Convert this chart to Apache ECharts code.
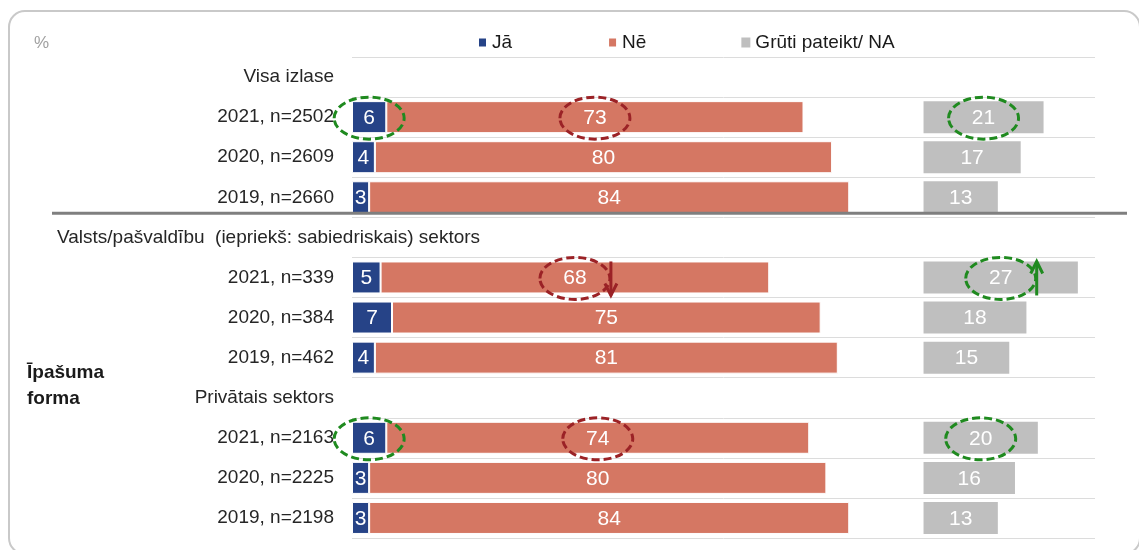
<!DOCTYPE html>
<html>
<head>
<meta charset="utf-8">
<script src="https://cdn.jsdelivr.net/npm/echarts@6/dist/echarts.min.js"></script>
<style>
  html, body { margin: 0; padding: 0; background: #fff; }
  #chart { width: 1139px; height: 550px; }
</style>
</head>
<body>
<div id="chart"></div>
<script>
  // rindas (virsraksti un apakšgrupas)
  const rowLabels = [
    'Visa izlase', '2021, n=2502', '2020, n=2609', '2019, n=2660',
    'Valsts/pašvaldību  (iepriekš: sabiedriskais) sektors', '2021, n=339', '2020, n=384', '2019, n=462',
    'Privātais sektors', '2021, n=2163', '2020, n=2225', '2019, n=2198'
  ]
  const seriesNames = ['Jā', 'Nē', 'Grūti pateikt/ NA']
  const jaValues = [null, 6, 4, 3, null, 5, 7, 4, null, 6, 3, 3]
  const neValues = [null, 73, 80, 84, null, 68, 75, 81, null, 74, 80, 84]
  const grutiValues = [null, 21, 17, 13, null, 27, 18, 15, null, 20, 16, 13]
  // pelēkie stabiņi sākas no 100
  const grutiStart = 100
  const longLabelRow = 4
  // iezīmētās vērtības: [rinda, sērija, krāsa]
  const circled = [[1, 0, 'g'], [1, 1, 'r'], [1, 2, 'g'], [5, 1, 'r'], [5, 2, 'g'], [9, 0, 'g'], [9, 1, 'r'], [9, 2, 'g']]
  const arrows = [[5, 1, 'down'], [5, 2, 'up']]

  const colors = ['#264387', '#d57763', '#bfbfbf']
  const markColors = { g: '#1f8a1f', r: '#9b2226' }
  const font = '"Liberation Sans", Arial, sans-serif'

  const gapValues = rowLabels.map((_, i) =>
    jaValues[i] == null ? null : grutiStart - jaValues[i] - neValues[i])

  const chart = echarts.init(document.getElementById('chart'))

  const barLabel = {
    show: true,
    position: 'inside',
    color: '#fff',
    fontSize: 21,
    fontFamily: font,
    offset: [0, 1]
  }

  chart.setOption({
    animation: false,
    textStyle: { fontFamily: font },
    legend: {
      data: seriesNames,
      left: 472,
      top: 28,
      itemGap: 95,
      itemWidth: 9,
      itemHeight: 10,
      icon: 'rect',
      textStyle: { fontSize: 19, color: '#1a1a1a', fontFamily: font }
    },
    grid: { left: 352, right: 44, top: 57, bottom: 12 },
    xAxis: {
      type: 'value',
      min: 0,
      max: 130,
      show: false
    },
    yAxis: {
      type: 'category',
      inverse: true,
      data: rowLabels,
      axisLine: { show: false },
      axisTick: { show: false },
      splitLine: { show: true, lineStyle: { color: '#dcdcdc', width: 1 } },
      axisLabel: {
        margin: 18,
        fontSize: 19,
        color: '#262626',
        fontFamily: font,
        formatter: (v, i) => (i === longLabelRow ? '' : v)
      }
    },
    series: [
      {
        name: seriesNames[0], type: 'bar', stack: 'a', barWidth: 32,
        data: jaValues,
        itemStyle: { color: colors[0], borderColor: '#fff', borderWidth: 1 },
        label: barLabel
      },
      {
        name: seriesNames[1], type: 'bar', stack: 'a',
        data: neValues,
        itemStyle: { color: colors[1], borderColor: '#fff', borderWidth: 1 },
        label: barLabel
      },
      {
        name: 'gap', type: 'bar', stack: 'a', silent: true,
        data: gapValues,
        itemStyle: { color: 'rgba(0,0,0,0)' },
        label: { show: false }
      },
      {
        name: seriesNames[2], type: 'bar', stack: 'a',
        data: grutiValues,
        itemStyle: { color: colors[2] },
        label: barLabel
      }
    ]
  })

  // anotācijas
  const px = (x, row) => chart.convertToPixel({ gridIndex: 0 }, [x, row])
  const centerX = (row, s) => {
    if (s === 0) return jaValues[row] / 2
    if (s === 1) return jaValues[row] + neValues[row] / 2
    return grutiStart + grutiValues[row] / 2
  }

  const graphics = [
    {
      type: 'rect', silent: true, z: 100,
      shape: { x: 9, y: 11, width: 1131, height: 543, r: 16 },
      style: { fill: 'none', stroke: '#c9c9c9', lineWidth: 2 }
    },
    {
      type: 'text', left: 34, top: 35, z: 100,
      style: { text: '%', fontSize: 17, fill: '#a0a0a0', fontFamily: font }
    },
    {
      type: 'text', left: 27, top: 360, z: 100,
      style: { text: 'Īpašuma\nforma', fontSize: 19, fontWeight: 'bold', lineHeight: 26, fill: '#1a1a1a', fontFamily: font }
    }
  ]

  const longY = px(0, longLabelRow)[1]
  graphics.push({
    type: 'text', x: 57, y: longY, z: 100,
    style: { text: rowLabels[longLabelRow], fontSize: 19, fill: '#262626', fontFamily: font, verticalAlign: 'middle' }
  })

  const sepY = (px(0, 3)[1] + px(0, 4)[1]) / 2 - 4
  graphics.push({
    type: 'line', silent: true, z: 100,
    shape: { x1: 52, y1: sepY, x2: 1127, y2: sepY },
    style: { stroke: '#7f7f7f', lineWidth: 3 }
  })

  circled.forEach(([row, s, c]) => {
    const p = px(centerX(row, s), row)
    graphics.push({
      type: 'ellipse', silent: true, z: 100,
      shape: { cx: p[0], cy: p[1] + 1, rx: 35, ry: 21 },
      style: { fill: 'none', stroke: markColors[c], lineWidth: 3, lineDash: [8, 4] }
    })
  })

  arrows.forEach(([row, s, dir]) => {
    const p = px(centerX(row, s), row)
    const x = p[0] + 36
    const col = dir === 'down' ? markColors.r : markColors.g
    const y1 = p[1] - 16
    const y2 = p[1] + 18
    const tip = dir === 'down' ? y2 : y1
    const back = dir === 'down' ? tip - 12 : tip + 12
    graphics.push({
      type: 'line', silent: true, z: 100,
      shape: { x1: x, y1: y1, x2: x, y2: y2 },
      style: { stroke: col, lineWidth: 3 }
    })
    graphics.push({
      type: 'polyline', silent: true, z: 100,
      shape: { points: [[x - 6, back], [x, tip], [x + 6, back]] },
      style: { stroke: col, lineWidth: 3, fill: 'none' }
    })
  })

  chart.setOption({ graphic: graphics })
</script>
</body>
</html>
